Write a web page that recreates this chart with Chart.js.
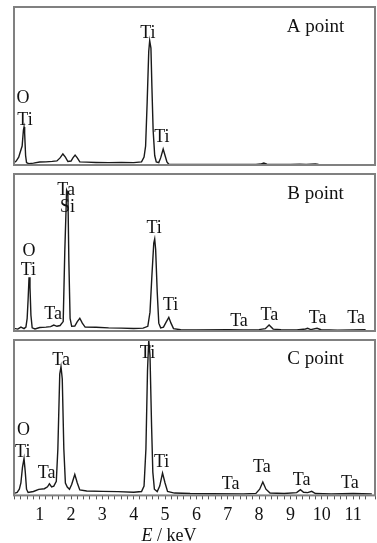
<!DOCTYPE html>
<html>
<head>
<meta charset="utf-8">
<script src="https://cdn.jsdelivr.net/npm/chart.js@4.4.1/dist/chart.umd.min.js"></script>
<style>
  html, body { margin: 0; padding: 0; background: #fff; }
  body { width: 377px; height: 543px; position: relative; overflow: hidden; }
  .panel { position: absolute; left: 0; width: 377px; }
  #wrapA { top: 0;   height: 170px; }
  #wrapB { top: 170px; height: 165px; }
  #wrapC { top: 335px; height: 200px; width: 380px; }
  #xTitle {
    position: absolute; left: 0; width: 338px; top: 526px;
    text-align: center; font: 18px 'Liberation Serif', serif; line-height: 18px; color: #111;
  }
</style>
</head>
<body>
<div class="panel" id="wrapA"><canvas id="chartA"></canvas></div>
<div class="panel" id="wrapB"><canvas id="chartB"></canvas></div>
<div class="panel" id="wrapC"><canvas id="chartC"></canvas></div>
<div id="xTitle"><i>E</i> / keV</div>

<script>
/* ============================================
   EDS spectra — A / B / C point
   ============================================ */

const X_MIN = 0.18, X_MAX = 11.7;
const xTickLabels = [1, 2, 3, 4, 5, 6, 7, 8, 9, 10, 11];
const panelNames = ['A point', 'B point', 'C point'];

/* ---------- A point ---------- */
const energyA = [0.18, 0.25, 0.33, 0.38, 0.44, 0.48, 0.50, 0.52, 0.55, 0.58, 0.65, 0.8, 1.0, 1.2, 1.4, 1.55, 1.65, 1.74, 1.82, 1.9,
  2.0, 2.06, 2.13, 2.2, 2.28, 2.5, 2.8, 3.2, 3.6, 4.0, 4.25, 4.33, 4.38, 4.43, 4.48, 4.51, 4.55, 4.58, 4.62, 4.67,
  4.72, 4.8, 4.86, 4.94, 5.0, 5.06, 5.12, 5.5, 6.0, 7.0, 7.9, 8.05, 8.15, 8.25, 8.5, 9.0, 9.3, 9.5, 9.8, 9.9];
const countsA = [1.5, 2.5, 5, 8.2, 12, 22, 24, 20, 6, 1.5, 0.8, 1.2, 1.9, 2.0, 2.3, 2.6, 4.5, 7.0, 5, 2.2,
  2.5, 4.5, 6.3, 4.5, 2.0, 1.8, 1.6, 1.5, 1.6, 1.5, 2, 5, 12, 40, 72, 78.7, 74, 50, 22, 6,
  2, 1.5, 4.5, 10.1, 6, 2, 0.5, 0.3, 0.3, 0.3, 0.3, 0.6, 1.2, 0.5, 0.3, 0.3, 0.5, 0.3, 0.6, 0.3];
const labelTextA  = ['Ti', 'O', 'Ti', 'Ti'];
const labelKeVA   = [4.45, 0.47, 0.53, 4.9];
const labelLevelA = [83.5, 42.4, 28.5, 17.7];

/* ---------- B point ---------- */
const energyB = [0.18, 0.3, 0.4, 0.5, 0.56, 0.6, 0.63, 0.66, 0.69, 0.72, 0.76, 0.85, 1.0, 1.2, 1.35, 1.45, 1.55, 1.65, 1.75, 1.80,
  1.86, 1.90, 1.93, 1.97, 2.02, 2.12, 2.2, 2.28, 2.36, 2.45, 2.8, 3.2, 3.6, 4.0, 4.3, 4.45, 4.52, 4.58, 4.64, 4.67,
  4.70, 4.75, 4.80, 4.86, 4.95, 5.03, 5.12, 5.19, 5.27, 5.5, 6.0, 7.0, 7.5, 8.0, 8.2, 8.32, 8.45, 8.7, 9.2, 9.48,
  9.55, 9.65, 9.85, 9.98, 10.5, 11.0, 11.4];
const countsB = [1.7, 1.2, 2.5, 1.5, 2.5, 8, 20, 34.2, 28, 10, 2, 1.3, 2.2, 2.5, 2.8, 3.8, 3, 3.5, 6, 50,
  89.8, 88, 45, 8, 3, 3.2, 6, 8.1, 5, 2.5, 2.4, 2.0, 1.8, 1.6, 1.8, 3, 12, 35, 56, 58.6,
  52, 25, 5, 2, 2.5, 5.5, 8.7, 5, 1.5, 0.8, 0.7, 0.8, 0.6, 0.9, 1.5, 3.8, 1.2, 0.8, 0.6, 1.3,
  1.7, 0.9, 1.7, 0.8, 0.5, 0.6, 0.8];
const labelTextB  = ['Ta', 'Si', 'Ti', 'O', 'Ti', 'Ta', 'Ti', 'Ta', 'Ta', 'Ta', 'Ta'];
const labelKeVB   = [1.84, 1.89, 4.65, 0.66, 0.64, 1.43, 5.18, 7.36, 8.33, 9.87, 11.1];
const labelLevelB = [89.8, 79, 65.6, 50.5, 38.9, 10.8, 16.6, 5.9, 10.2, 8.1, 8.1];

/* ---------- C point ---------- */
const energyC = [0.18, 0.28, 0.35, 0.40, 0.45, 0.50, 0.54, 0.58, 0.63, 0.8, 0.97, 1.15, 1.25, 1.31, 1.38, 1.45, 1.53, 1.58, 1.64, 1.68,
  1.72, 1.77, 1.82, 1.88, 1.95, 2.02, 2.12, 2.20, 2.28, 2.5, 3.0, 3.5, 4.0, 4.25, 4.33, 4.39, 4.44, 4.48, 4.52, 4.57,
  4.61, 4.66, 4.75, 4.83, 4.92, 5.0, 5.08, 5.3, 5.8, 6.5, 7.5, 7.9, 8.02, 8.12, 8.22, 8.35, 8.8, 9.2, 9.32, 9.42,
  9.55, 9.68, 9.8, 10.3, 11.0, 11.6];
const countsC = [1.3, 2, 4, 8, 18, 23.7, 15, 4, 1.9, 2.5, 3.9, 4.3, 5.5, 7.5, 5.5, 6, 9, 30, 78, 82.8,
  75, 30, 8, 5.4, 4, 7, 13.5, 8, 3.5, 2.8, 2.6, 2.4, 2.0, 2.5, 6, 30, 80, 100, 90, 45,
  15, 4, 2.5, 6, 14.4, 8, 2.5, 1.5, 1.2, 1.1, 1.0, 1.3, 4, 8.6, 4, 1.5, 1.2, 1.8, 3.7, 2,
  1.8, 2.6, 1.2, 1.0, 1.2, 1.0];
const labelTextC  = ['Ta', 'Ti', 'O', 'Ti', 'Ta', 'Ti', 'Ta', 'Ta', 'Ta', 'Ta'];
const labelKeVC   = [1.68, 4.44, 0.48, 0.46, 1.22, 4.89, 7.09, 8.09, 9.36, 10.9];
const labelLevelC = [87.1, 91.4, 41.9, 27.5, 14, 21.5, 7.1, 18.3, 9.7, 7.5];

const SERIF = "'Liberation Serif', 'Times New Roman', serif";

/* ---------- PLUGINS: frame + peak labels ---------- */
const framePlugin = {
  id: 'frame',
  afterDraw(chart) {
    const { ctx, chartArea: a } = chart;
    ctx.save();
    ctx.strokeStyle = '#808080';
    ctx.lineWidth = 2;
    ctx.strokeRect(a.left, a.top, a.right - a.left, a.bottom - a.top);
    ctx.restore();
  }
};

const peakLabelPlugin = {
  id: 'peakLabels',
  afterDatasetsDraw(chart, args, opts) {
    const { ctx, scales: { x, y } } = chart;
    ctx.save();
    ctx.fillStyle = '#111';
    ctx.textAlign = 'center';
    ctx.textBaseline = 'middle';
    ctx.font = '18px ' + SERIF;
    opts.text.forEach((t, i) => {
      ctx.fillText(t, x.getPixelForValue(opts.kev[i]), y.getPixelForValue(opts.level[i]));
    });
    // panel name, top right
    ctx.font = '19px ' + SERIF;
    ctx.fillText(opts.name, x.getPixelForValue(9.8), y.getPixelForValue(87.5));
    ctx.restore();
  }
};

/* ---------- BUILD ONE PANEL ---------- */
function renderPanel(id, energy, counts, name, text, kev, level, padding, showAxis) {
  const points = energy.map((e, i) => ({ x: e, y: counts[i] }));

  return new Chart(document.getElementById(id), {
    type: 'line',
    data: {
      datasets: [{
        data: points,
        borderColor: '#1a1a1a',
        borderWidth: 1.4,
        pointRadius: 0,
        tension: 0,
        fill: false
      }]
    },
    options: {
      responsive: true,
      maintainAspectRatio: false,
      animation: false,
      layout: { padding },
      plugins: {
        legend: { display: false },
        tooltip: { enabled: false },
        peakLabels: { text, kev, level, name }
      },
      scales: {
        x: {
          type: 'linear',
          min: X_MIN,
          max: X_MAX,
          display: showAxis,
          border: { display: false },
          grid: { drawOnChartArea: false, drawTicks: true, tickLength: 4, color: '#555' },
          ticks: {
            stepSize: 0.2,
            autoSkip: false,
            maxRotation: 0,
            padding: 5,
            color: '#111',
            font: { family: SERIF, size: 18 },
            callback: v => {
              const r = Math.round(v);
              return (Math.abs(v - r) < 1e-6 && xTickLabels.includes(r)) ? String(r) : '';
            }
          }
        },
        y: { min: 0, max: 100, display: false }
      }
    },
    plugins: [framePlugin, peakLabelPlugin]
  });
}

renderPanel('chartA', energyA, countsA, panelNames[0], labelTextA, labelKeVA, labelLevelA,
  { left: 14, right: 2, top: 7, bottom: 5 }, false);
renderPanel('chartB', energyB, countsB, panelNames[1], labelTextB, labelKeVB, labelLevelB,
  { left: 14, right: 2, top: 4, bottom: 4 }, false);
renderPanel('chartC', energyC, countsC, panelNames[2], labelTextC, labelKeVC, labelLevelC,
  { left: 14, right: 2, top: 5, bottom: 4 }, true);
</script>
</body>
</html>
